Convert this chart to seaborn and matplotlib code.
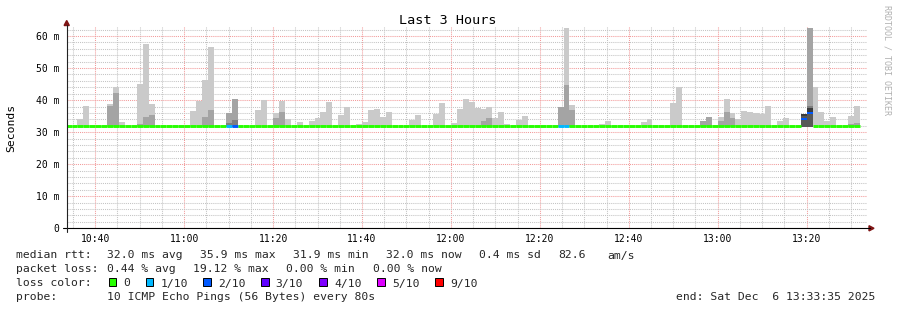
import matplotlib
matplotlib.use("Agg")
import matplotlib.pyplot as plt
import seaborn as sns
import numpy as np
from matplotlib.patches import Rectangle, Polygon
from matplotlib.lines import Line2D

# ---------------- data ----------------
# bins of 80 s; bin 0 starts 10:33:20 (minutes after 10:00)
bin0_min = 33 + 20 / 60
step_min = 80 / 60
n_bins = 134
view_start = 33 + 35 / 60      # 10:33:35
view_end = 213 + 35 / 60       # 13:33:35

# light smoke (#cacaca) tops, ms
light_bins = [2, 3, 7, 8, 9, 12, 13, 14, 21, 22, 23, 24, 32, 33, 35, 36, 37, 39, 41, 42,
              43, 44, 46, 47, 49, 50, 51, 52, 53, 54, 58, 59, 62, 63, 65, 66, 67, 68, 69,
              70, 71, 72, 73, 74, 76, 77, 84, 85, 90, 91, 97, 98, 102, 103, 110, 111, 112,
              113, 114, 115, 116, 117, 118, 120, 121, 126, 127, 128, 129, 132, 133]
light_tops = [34.1, 38.1, 38.75, 44.1, 33.2, 45.0, 57.6, 38.75, 36.6, 39.7, 46.25, 56.6,
              36.9, 40.0, 35.9, 39.7, 34.1, 33.1, 33.4, 34.4, 36.25, 39.4, 35.3, 37.8,
              32.5, 33.1, 36.9, 37.2, 34.7, 36.25, 33.75, 35.3, 35.6, 39.1, 32.8, 37.2,
              40.3, 39.3, 37.5, 37.2, 37.8, 34.4, 36.25, 32.5, 33.75, 35.0, 62.5, 38.4,
              32.5, 33.4, 33.1, 34.1, 39.1, 44.1, 34.7, 40.3, 35.9, 34.1, 36.6, 36.25,
              35.9, 35.6, 38.1, 33.4, 34.4, 44.1, 36.25, 33.4, 34.7, 35.0, 38.1]
# medium smoke (#a4a4a4)
mid_bins = [7, 8, 12, 13, 14, 23, 24, 27, 28, 35, 36, 70, 71, 83, 84, 85, 107, 108,
            110, 111, 112, 125, 132, 133]
mid_tops = [38.1, 42.2, 32.5, 34.7, 35.3, 34.7, 36.9, 35.9, 40.3, 34.4, 36.25, 33.4,
            34.4, 37.8, 44.7, 36.9, 33.4, 34.7, 33.4, 36.25, 34.4, 62.5, 32.5, 32.8]
# darker smoke (#7e7e7e)
dark_bins = [27, 28, 125]
dark_tops = [32.8, 33.75, 38.1]
# darkest core (#3c3c3c) and inner (#585858)
core_bins = [124, 125]
core_tops = [35.6, 37.5]
inner_bins = [124, 125]
inner_tops = [35.1, 35.6]
smoke_floor = 31.6

median_default = 32.0
median_bins = [124, 125]
median_vals = [34.2, 35.9]
loss_bins = [27, 28, 83, 84, 124, 125]
loss_vals = [1, 2, 1, 1, 2, 2]

loss_keys = [0, 1, 2, 3, 4, 5, 9]
loss_labels = ["0", "1/10", "2/10", "3/10", "4/10", "5/10", "9/10"]
loss_colors = ["#26ff00", "#00b8ff", "#0059ff", "#5e00ff", "#7e00ff", "#dd00ff", "#ff0000"]

x_major = [40, 60, 80, 100, 120, 140, 160, 180, 200]
x_labels = ["10:40", "11:00", "11:20", "11:40", "12:00", "12:20", "12:40", "13:00", "13:20"]
y_major = [0, 10, 20, 30, 40, 50, 60]
y_labels = ["0", "10 m", "20 m", "30 m", "40 m", "50 m", "60 m"]
y_top = 63.1

title = "Last 3 Hours"
ylabel = "Seconds"
credit = "RRDTOOL / TOBI OETIKER"
rtt_label = "median rtt:"
rtt_items = ["32.0 ms avg", "35.9 ms max", "31.9 ms min", "32.0 ms now", "0.4 ms sd", "82.6", "am/s"]
loss_label = "packet loss:"
loss_items = ["0.44 % avg", "19.12 % max", "0.00 % min", "0.00 % now"]
color_label = "loss color:"
probe_label = "probe:"
probe_text = "10 ICMP Echo Pings (56 Bytes) every 80s"
end_text = "end: Sat Dec  6 13:33:35 2025"

# ---------------- figure ----------------
sns.set_theme(style="white")
plt.rcParams["font.family"] = ["DejaVu Sans Mono", "DejaVu Sans"]

W, H = 897, 310
fig = plt.figure(figsize=(W / 100, H / 100), dpi=100)
fig.patch.set_facecolor("white")

def fx(px):
    return px / W

def fy(py):
    return 1 - py / H

L, R, B, T = 66.7, 867.0, 228.3, 26.1
ax = fig.add_axes([fx(L), fy(B), (R - L) / W, (B - T) / H])
ax.set_facecolor("white")
ax.set_xlim(view_start, view_end)
ax.set_ylim(0, y_top)

# grid
ax.set_xticks(x_major)
ax.set_xticklabels(x_labels)
ax.set_xticks(np.arange(35, 214, 5), minor=True)
ax.set_yticks(y_major)
ax.set_yticklabels(y_labels)
ax.set_yticks(np.arange(0, 63, 2), minor=True)
ax.grid(which="minor", color="#c4c4c4", linestyle=(0, (1, 1)), linewidth=0.75)
ax.grid(which="major", color="#f29a9a", linestyle=(0, (1, 1)), linewidth=0.75)
ax.set_axisbelow(True)
ax.tick_params(axis="both", which="minor", length=0)
ax.tick_params(axis="x", which="major", length=2.2, width=0.7, color="#f29a9a",
               labelsize=7, pad=1.9, direction="out", labelcolor="black")
ax.tick_params(axis="y", which="major", length=2.2, width=0.7, color="#f29a9a",
               labelsize=7, pad=3.2, direction="out", labelcolor="black")
for s in ax.spines.values():
    s.set_visible(False)

def bin_left(j):
    return bin0_min + j * step_min

def draw_layer(bins, tops, color):
    lefts = [bin_left(j) for j in bins]
    heights = [t - smoke_floor for t in tops]
    ax.bar(lefts, heights, width=step_min, bottom=smoke_floor, align="edge",
           color=color, edgecolor="none", linewidth=0, zorder=2)

draw_layer(light_bins, light_tops, "#cacaca")
draw_layer(mid_bins, mid_tops, "#a4a4a4")
draw_layer(dark_bins, dark_tops, "#7e7e7e")
draw_layer(core_bins, core_tops, "#3c3c3c")
draw_layer(inner_bins, inner_tops, "#585858")

# median line coloured by loss
med = {j: median_default for j in range(n_bins)}
for j, v in zip(median_bins, median_vals):
    med[j] = v
loss = {j: 0 for j in range(n_bins)}
for j, v in zip(loss_bins, loss_vals):
    loss[j] = v
cmap = dict(zip(loss_keys, loss_colors))
ys = [med[j] for j in range(n_bins)]
x0 = [max(bin_left(j), view_start) for j in range(n_bins)]
x1 = [bin_left(j) + step_min for j in range(n_bins)]
cols = [cmap[loss[j]] for j in range(n_bins)]
lws = [1.45 if j in median_bins else 2.1 for j in range(n_bins)]
lc = ax.hlines(ys, x0, x1, colors=cols, linewidths=lws, zorder=3)
lc.set_capstyle("butt")

# axes lines and arrows
fig.add_artist(Line2D([fx(62.7), fx(869.5)], [fy(B), fy(B)], color="black", lw=0.8))
fig.add_artist(Line2D([fx(L), fx(L)], [fy(231.5), fy(25)], color="#222222", lw=0.8))
arrow_c = "#7f1414"
fig.add_artist(Polygon([[fx(L - 2.6), fy(25.5)], [fx(L + 2.6), fy(25.5)], [fx(L), fy(20.5)]],
                       closed=True, color=arrow_c, transform=fig.transFigure))
fig.add_artist(Polygon([[fx(869), fy(B - 2.6)], [fx(869), fy(B + 2.6)], [fx(874), fy(B)]],
                       closed=True, color=arrow_c, transform=fig.transFigure))

# titles
fig.text(fx(447.5), fy(20), title, ha="center", va="center", fontsize=9.7, color="black")
fig.text(fx(10.8), fy(127.5), ylabel, ha="center", va="center", rotation=90,
         fontsize=8.2, color="black")
fig.text(fx(887.3), fy(60), credit, ha="center", va="center", rotation=270,
         fontsize=6, color="#b0b0b0")

# legend / stats lines
fs = 8.2
base = [258.5, 272.5, 286.5, 300.5]
fig.text(fx(16), fy(base[0]), rtt_label, ha="left", va="baseline", fontsize=fs)
for xp, s in zip([107.3, 200.0, 293.3, 386.0, 479.3, 558.3, 607.3], rtt_items):
    fig.text(fx(xp), fy(base[0]), s, ha="left", va="baseline", fontsize=fs)
fig.text(fx(16), fy(base[1]), loss_label, ha="left", va="baseline", fontsize=fs)
for xp, s in zip([107.3, 193.3, 286.0, 372.7], loss_items):
    fig.text(fx(xp), fy(base[1]), s, ha="left", va="baseline", fontsize=fs)
fig.text(fx(16), fy(base[2]), color_label, ha="left", va="baseline", fontsize=fs)
sw_x = [108.7, 146.0, 203.3, 261.3, 319.3, 377.3, 435.3]
lab_x = [123.3, 160.7, 218.0, 275.3, 334.0, 392.0, 450.0]
for sx, lx, c, lab in zip(sw_x, lab_x, loss_colors, loss_labels):
    fig.add_artist(Rectangle((fx(sx), fy(286.3)), 7.3 / W, 8.0 / H, facecolor=c,
                             edgecolor="black", linewidth=0.7, transform=fig.transFigure))
    fig.text(fx(lx), fy(base[2]), lab, ha="left", va="baseline", fontsize=fs)
fig.text(fx(16), fy(base[3]), probe_label, ha="left", va="baseline", fontsize=fs)
fig.text(fx(107.3), fy(base[3]), probe_text, ha="left", va="baseline", fontsize=fs)
fig.text(fx(675.5), fy(base[3]), end_text, ha="left", va="baseline", fontsize=fs)

fig.savefig("out.png", dpi=100, facecolor="white")
